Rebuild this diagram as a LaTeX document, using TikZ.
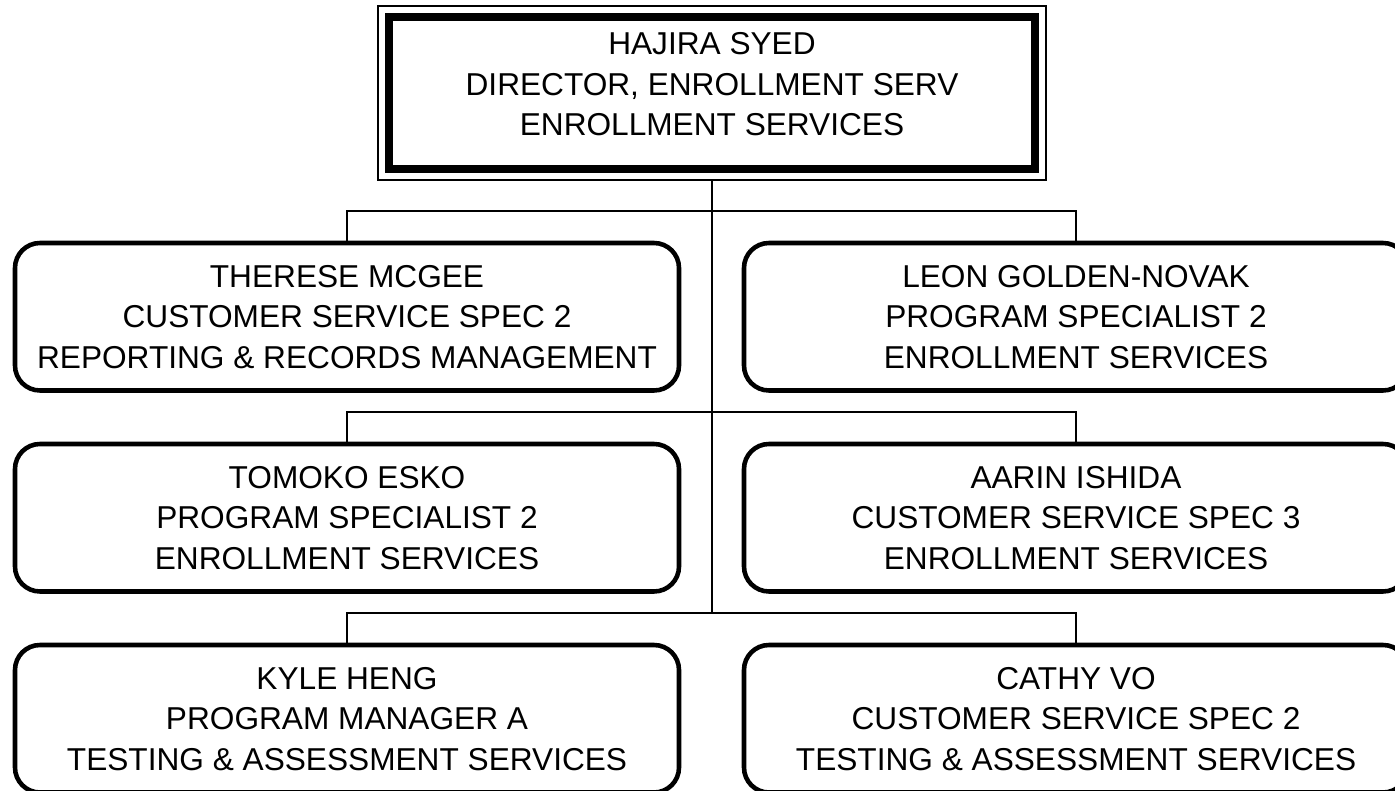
\documentclass[tikz,border=0pt]{standalone}
\usepackage{fontspec}
\setmainfont{Liberation Sans}
\begin{document}
\begin{tikzpicture}[
    person/.style={draw, line width=2.6pt, rounded corners=0.5cm, outer sep=0pt, inner sep=0pt,
        minimum width=13.28cm, minimum height=2.95cm, align=center, font=\fontsize{18}{23}\selectfont},
    director/.style={draw, line width=4.6pt, outer sep=0pt, inner sep=0pt,
        minimum width=12.92cm, minimum height=3.03cm},
    title/.style={align=center, inner sep=0pt, font=\fontsize{18}{23}\selectfont},
    link/.style={line width=1.1pt}
]
    \useasboundingbox (0,0) rectangle (27.9,-15.82);

    % Director box with thin outer frame
    \node[director] (syed) at (14.24,-1.86) {};
    \draw[link] ([shift={(-0.22,0.225)}]syed.north west) rectangle ([shift={(0.22,-0.225)}]syed.south east);
    \node[title] (syedtext) at ([yshift=0.17cm]syed.center) {HAJIRA SYED\\DIRECTOR, ENROLLMENT SERV\\ENROLLMENT SERVICES};

    % Staff boxes
    \node[person] (mcgee) at (6.94,-6.335) {THERESE MCGEE\\CUSTOMER SERVICE SPEC 2\\REPORTING \& RECORDS MANAGEMENT};
    \node[person] (goldennovak) at (21.52,-6.335) {LEON GOLDEN-NOVAK\\PROGRAM SPECIALIST 2\\ENROLLMENT SERVICES};
    \node[person] (esko) at (6.94,-10.355) {TOMOKO ESKO\\PROGRAM SPECIALIST 2\\ENROLLMENT SERVICES};
    \node[person] (ishida) at (21.52,-10.355) {AARIN ISHIDA\\CUSTOMER SERVICE SPEC 3\\ENROLLMENT SERVICES};
    \node[person] (heng) at (6.94,-14.375) {KYLE HENG\\PROGRAM MANAGER A\\TESTING \& ASSESSMENT SERVICES};
    \node[person] (vo) at (21.52,-14.375) {CATHY VO\\CUSTOMER SERVICE SPEC 2\\TESTING \& ASSESSMENT SERVICES};

    % Trunk down from the director
    \coordinate (trunktop) at ([yshift=-0.225cm]syed.south);
    \coordinate (lastbranch) at ([yshift=0.64cm]heng.north);
    \draw[link] (trunktop) -- (lastbranch -| trunktop);

    % Branches to each pair
    \draw[link] (mcgee.north) -- ++(0,0.64) -| (goldennovak.north);
    \draw[link] (esko.north) -- ++(0,0.64) -| (ishida.north);
    \draw[link] (heng.north) -- ++(0,0.64) -| (vo.north);
\end{tikzpicture}
\end{document}
